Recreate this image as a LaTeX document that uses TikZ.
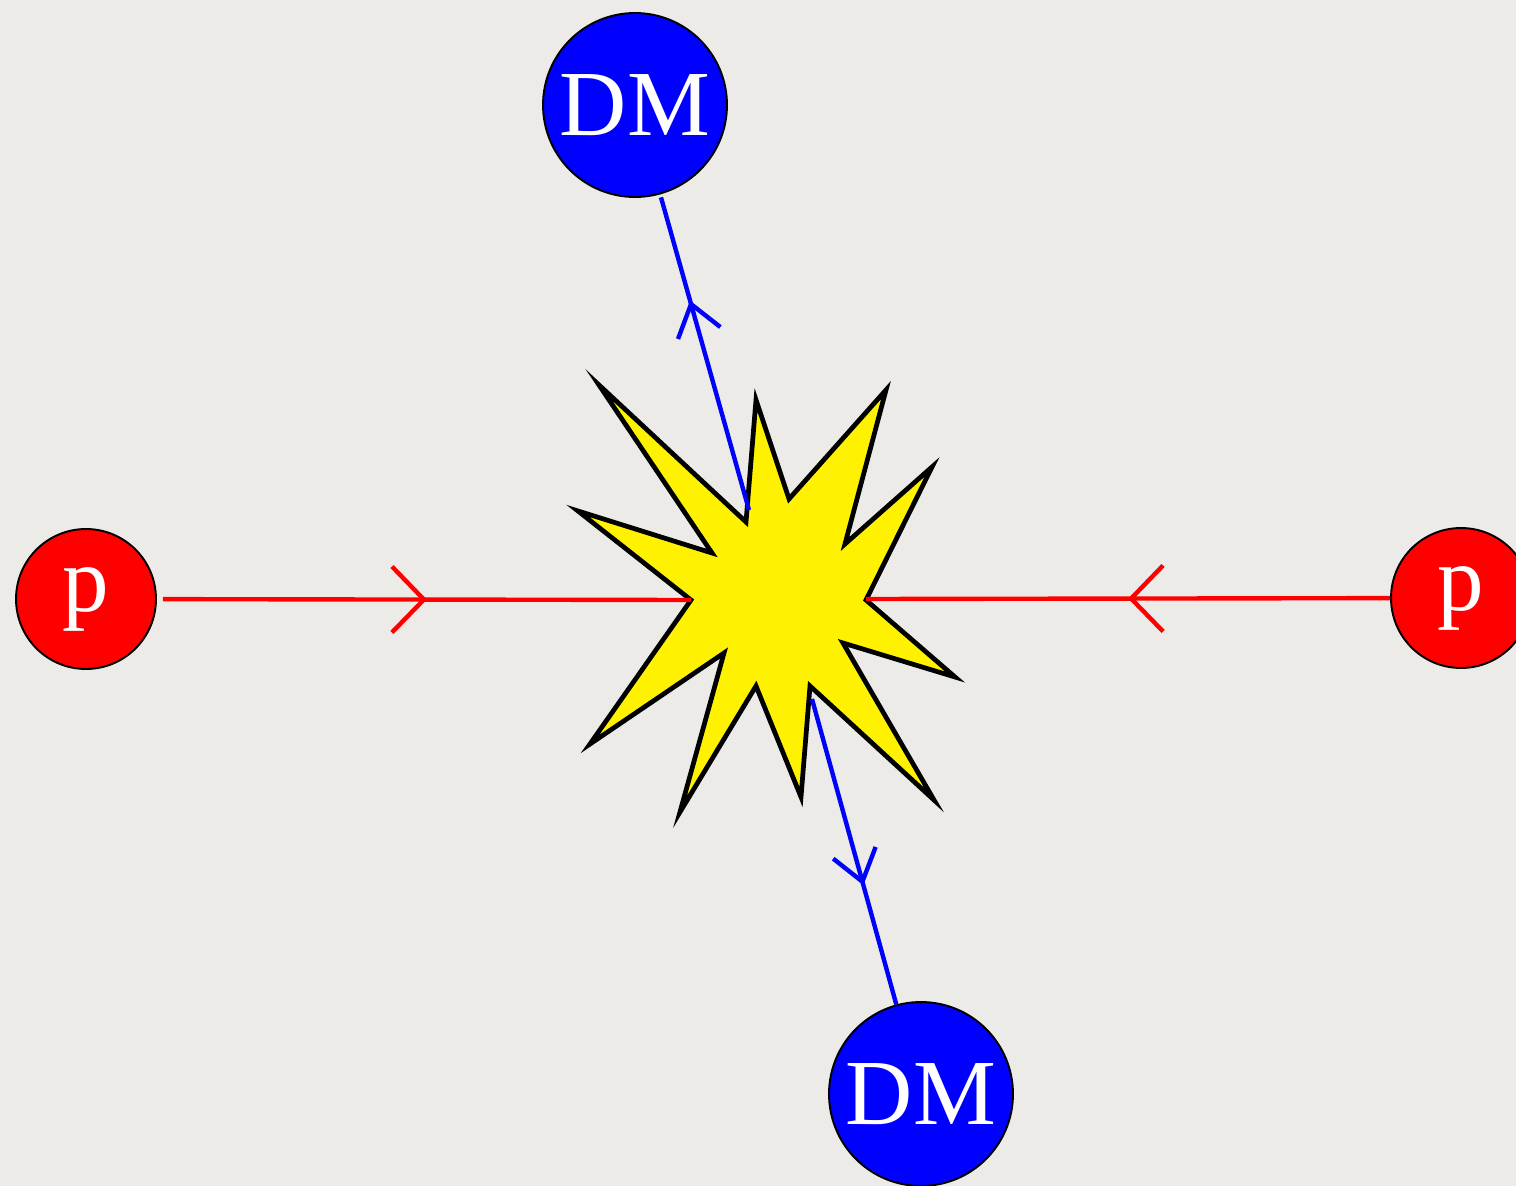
\documentclass[tikz,border=0pt]{standalone}
\usepackage{fontspec}
\setmainfont{Liberation Serif}
\usepackage{xcolor}
\usepackage{tikz}
\usetikzlibrary{arrows.meta,decorations.markings}
\definecolor{paper}{RGB}{236,235,231}

\begin{document}
\begin{tikzpicture}[x=0.02cm, y=-0.02cm,
    particle/.style={circle, draw, line width=1.1pt, text=white, inner sep=0pt, font=\fontsize{53}{60}\selectfont},
    proton/.style={particle, fill=red, minimum size=2.8cm},
    dm/.style={particle, fill=blue, minimum size=3.68cm},
    burst/.style={draw, fill=yellow, line width=2.7pt, line join=miter},
    pline/.style={red, line width=2.5pt, postaction={decorate},
        decoration={markings, mark=at position #1 with {\arrow{Straight Barb[length=0.64cm, width=1.32cm]}}}},
    dmline/.style={blue, line width=2.5pt, postaction={decorate},
        decoration={markings, mark=at position #1 with {\arrow{Straight Barb[length=0.6cm, width=0.88cm]}}}}
]

% Background
\useasboundingbox (0,0) rectangle (1516,1186);
\fill[paper] (0,0) rectangle (1516,1186);

% Collision
\draw[burst] (599,385) -- (746,522) -- (756,400) -- (789,499) -- (886,390)
    -- (845,544) -- (932,467) -- (866,600) -- (955,677) -- (843,643)
    -- (934,800) -- (810,686) -- (801,797) -- (756,686) -- (680,812)
    -- (724,653) -- (590,744) -- (691,600) -- (578,511) -- (712,553) -- cycle;

\coordinate (hitL) at (691,600);
\coordinate (hitR) at (866,599);
\coordinate (hitT) at (749,510);
\coordinate (hitB) at (812,699);

% Particles
\node[proton, outer sep=0.14cm] (pL) at (86,599) {p};
\node[proton] (pR) at (1461,598) {p};
\node[dm, outer sep=0.08cm] (dmT) at (635,105) {DM};
\node[dm] (dmB) at (921,1094) {DM};

% Incoming protons
\draw[pline=0.5] (pL) -- (hitL);
\draw[pline=0.5] (pR) -- (hitR);

% Outgoing dark matter
\draw[dmline=0.67] (hitT) -- (dmT);
\draw[dmline=0.61] (hitB) -- (dmB);

\end{tikzpicture}
\end{document}
